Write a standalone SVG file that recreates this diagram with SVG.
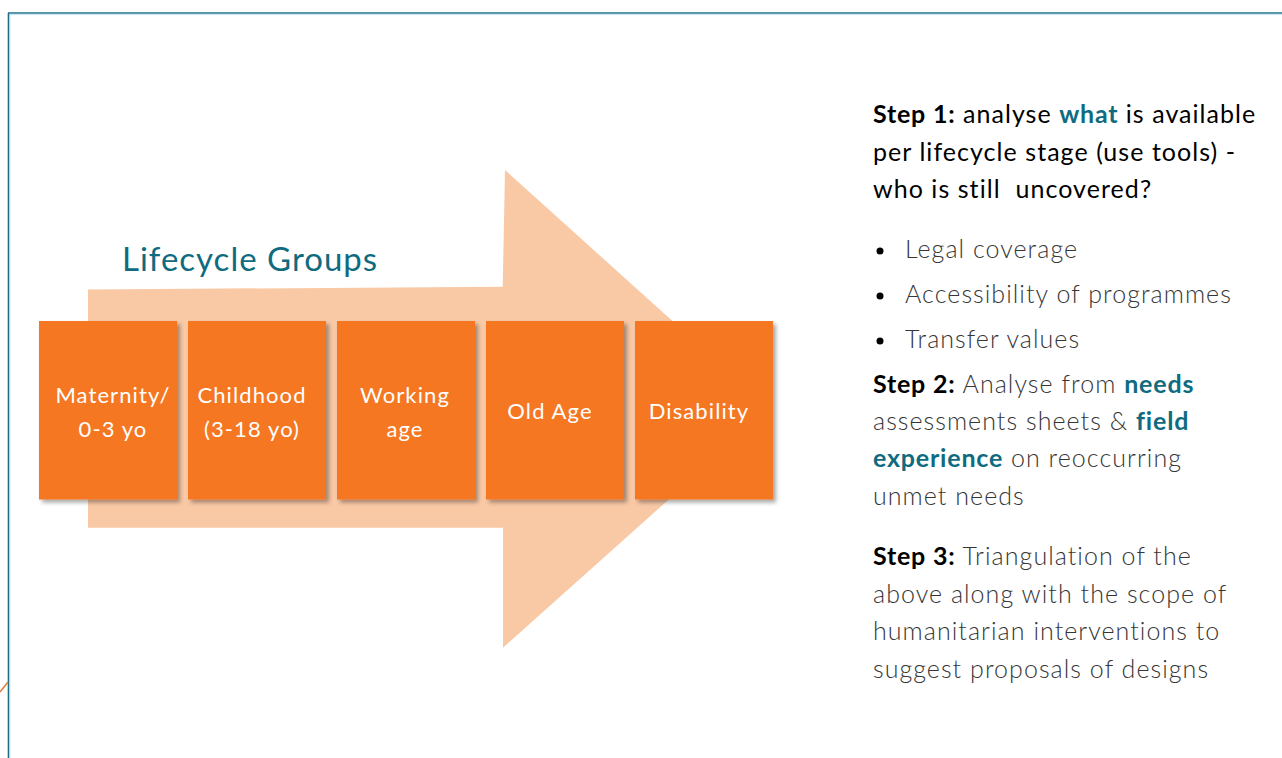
<svg xmlns="http://www.w3.org/2000/svg" width="1282" height="758" viewBox="0 0 1282 758">
<style>
.box{fill:#f57722;}
.bt{font-family:Lato,"Open Sans",sans-serif;font-size:22px;letter-spacing:1.1px;fill:#ffffff;text-anchor:middle;}
.rt{font-family:Lato,"Open Sans",sans-serif;font-size:25px;letter-spacing:1.05px;fill:#363636;font-weight:300;}
.k{fill:#000000;font-weight:normal;letter-spacing:1.05px;}
.b{font-weight:bold;letter-spacing:0.8px;}
.tl{fill:#0f6b80;font-weight:bold;letter-spacing:0.8px;}
</style>
<defs>
<filter id="sh" x="-10%" y="-10%" width="130%" height="130%">
<feGaussianBlur in="SourceAlpha" stdDeviation="2"/>
<feOffset dx="3" dy="3"/>
<feComponentTransfer><feFuncA type="linear" slope="0.35"/></feComponentTransfer>
<feMerge><feMergeNode/><feMergeNode in="SourceGraphic"/></feMerge>
</filter>
</defs>
<rect width="1282" height="758" fill="#ffffff"/>
<g id="frame">
<line x1="8" y1="13" x2="1282" y2="13" stroke="#1d6f86" stroke-width="1.6"/>
<line x1="9" y1="14.3" x2="1282" y2="14.3" stroke="#a9d9e6" stroke-width="0.8"/>
<line x1="8.5" y1="13" x2="8.5" y2="758" stroke="#1d6f86" stroke-width="1.6"/>
<line x1="9.8" y1="14" x2="9.8" y2="758" stroke="#a9d9e6" stroke-width="0.8"/>
<line x1="0" y1="692" x2="8" y2="682" stroke="#e07a3a" stroke-width="1.5"/>
</g>
<g id="arrow">
<polygon points="88,289.5 502.7,286.7 505,170 770,409 503,647.7 503,527.7 88,527.7" fill="#f9c9a6"/>
</g>
<text x="122" y="271" font-family="Lato,'Open Sans',sans-serif" font-size="33" letter-spacing="1" fill="#0f6b80">Lifecycle Groups</text>
<g id="node-maternity">
<rect class="box" x="39" y="321" width="138" height="178.5" filter="url(#sh)"/>
<text class="bt" x="113" y="403">Maternity/</text>
<text class="bt" x="113" y="437">0-3 yo</text>
</g>
<g id="node-childhood">
<rect class="box" x="188" y="321" width="138" height="178.5" filter="url(#sh)"/>
<text class="bt" x="252" y="403">Childhood</text>
<text class="bt" x="252" y="437">(3-18 yo)</text>
</g>
<g id="node-working">
<rect class="box" x="337" y="321" width="138" height="178.5" filter="url(#sh)"/>
<text class="bt" x="405" y="403">Working</text>
<text class="bt" x="405" y="437">age</text>
</g>
<g id="node-oldage">
<rect class="box" x="486" y="321" width="138" height="178.5" filter="url(#sh)"/>
<text class="bt" x="550" y="419">Old Age</text>
</g>
<g id="node-disability">
<rect class="box" x="635" y="321" width="138" height="178.5" filter="url(#sh)"/>
<text class="bt" x="699" y="419">Disability</text>
</g>
<g id="connectors"></g>
<g id="steps" class="rt">
<text x="873" y="123" class="k"><tspan class="b">Step 1:</tspan> analyse <tspan class="tl">what</tspan> is available</text>
<text x="873" y="161" class="k">per lifecycle stage (use tools) -</text>
<text x="873" y="198" class="k" xml:space="preserve">who is still  uncovered?</text>
<circle cx="880" cy="251" r="3.5" fill="#000"/>
<text x="905" y="258">Legal coverage</text>
<circle cx="880" cy="296" r="3.5" fill="#000"/>
<text x="905" y="303">Accessibility of programmes</text>
<circle cx="880" cy="341" r="3.5" fill="#000"/>
<text x="905" y="348">Transfer values</text>
<text x="873" y="393"><tspan class="k b">Step 2:</tspan> Analyse from <tspan class="tl">needs</tspan></text>
<text x="873" y="430">assessments sheets &amp; <tspan class="tl">field</tspan></text>
<text x="873" y="467"><tspan class="tl">experience</tspan> on reoccurring</text>
<text x="873" y="505">unmet needs</text>
<text x="873" y="565"><tspan class="k b">Step 3:</tspan> Triangulation of the</text>
<text x="873" y="603">above along with the scope of</text>
<text x="873" y="640">humanitarian interventions to</text>
<text x="873" y="678">suggest proposals of designs</text>
</g>
</svg>
